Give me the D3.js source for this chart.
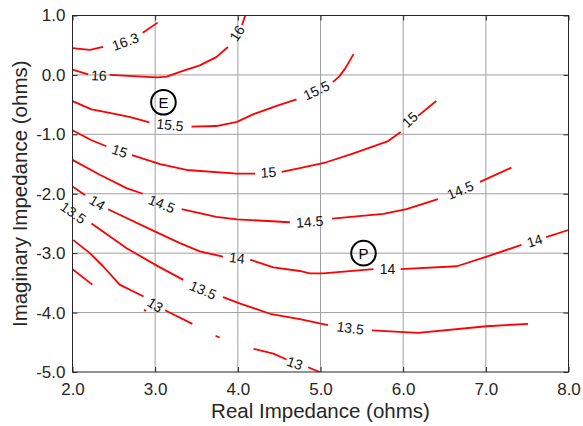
<!DOCTYPE html>
<html>
<head>
<meta charset="utf-8">
<script src="https://cdn.jsdelivr.net/npm/d3@7"></script>
<style>
  html, body { margin: 0; padding: 0; background: #fff; }
  svg { display: block; font-family: "Liberation Sans", Arial, sans-serif; }
</style>
</head>
<body>
<svg id="chart" width="583" height="426"></svg>
<script>
// ---------------- data ----------------
const xTicks = [2, 3, 4, 5, 6, 7, 8];
const xTickLabels = ["2.0", "3.0", "4.0", "5.0", "6.0", "7.0", "8.0"];
const yTicks = [1, 0, -1, -2, -3, -4, -5];
const yTickLabels = ["1.0", "0.0", "-1.0", "-2.0", "-3.0", "-4.0", "-5.0"];

const levelNames = ["16.3", "16", "15.5", "15", "14.5", "14", "13.5", "13"];

// contour pieces (real, imaginary) for each level
const line163 = [
  [[2.0, 0.45], [2.21, 0.42], [2.37, 0.47]],
  [[2.85, 0.71], [3.03, 0.88]]
];
const line160 = [
  [[2.0, 0.09], [2.19, 0.01]],
  [[2.45, 0.00], [3.02, -0.04], [3.14, -0.03], [3.30, 0.05], [3.54, 0.16], [3.74, 0.30], [3.88, 0.47]],
  [[4.05, 0.84], [4.09, 1.0]]
];
const line155 = [
  [[2.0, -0.44], [2.23, -0.58], [2.45, -0.64], [2.70, -0.71], [2.93, -0.80]],
  [[3.44, -0.87], [3.74, -0.86], [3.99, -0.79], [4.19, -0.66], [4.47, -0.52], [4.71, -0.41]],
  [[5.15, -0.12], [5.23, -0.02], [5.30, 0.11], [5.40, 0.35]]
];
const line150 = [
  [[2.0, -0.93], [2.23, -1.10], [2.41, -1.20]],
  [[2.72, -1.35], [3.06, -1.50], [3.38, -1.60], [3.99, -1.66], [4.21, -1.66]],
  [[4.53, -1.63], [4.75, -1.57], [5.07, -1.47], [5.40, -1.32], [5.81, -1.12], [5.97, -0.96]],
  [[6.18, -0.69], [6.40, -0.44]]
];
const line145 = [
  [[2.0, -1.43], [2.33, -1.68], [2.66, -1.91], [2.85, -2.00]],
  [[3.32, -2.26], [3.74, -2.39], [3.99, -2.43], [4.63, -2.48]],
  [[5.14, -2.42], [5.76, -2.34], [6.04, -2.26], [6.42, -2.09]],
  [[6.93, -1.80], [7.31, -1.56]]
];
const line140 = [
  [[2.0, -1.88], [2.15, -2.02]],
  [[2.43, -2.26], [3.02, -2.65], [3.30, -2.83], [3.54, -2.97], [3.82, -3.06]],
  [[4.15, -3.11], [4.43, -3.24], [4.75, -3.30], [4.87, -3.34], [5.03, -3.34], [5.64, -3.27]],
  [[5.97, -3.27], [6.65, -3.22], [7.01, -3.06], [7.43, -2.86]],
  [[7.73, -2.73], [8.0, -2.61]]
];
const line135 = [
  [[2.23, -2.50], [2.66, -2.92], [3.02, -3.21], [3.34, -3.45]],
  [[3.82, -3.74], [4.03, -3.85], [4.39, -4.02], [4.75, -4.11], [4.99, -4.18], [5.09, -4.21]],
  [[5.62, -4.30], [6.18, -4.34], [7.01, -4.23], [7.51, -4.19]]
];
const line130 = [
  [[2.01, -2.78], [2.21, -3.00], [2.37, -3.22], [2.57, -3.53], [2.86, -3.73]],
  [[3.12, -3.96], [3.45, -4.19]],
  [[3.73, -4.39], [3.78, -4.42]],
  [[4.19, -4.61], [4.43, -4.69], [4.59, -4.79]],
  [[4.85, -4.92], [4.99, -5.0]]
];
// unlabeled fragments
const lineFragments = [
  [[2.0, -3.27], [2.24, -3.53]],
  [[2.865, -3.955], [2.89, -3.97]]
];

// label anchors (real, imaginary) for each level
const labels163 = [[2.64, 0.56]];
const labels160 = [[2.32, -0.01], [3.99, 0.70]];
const labels155 = [[3.18, -0.84], [4.95, -0.26]];
const labels150 = [[2.57, -1.28], [4.37, -1.64], [6.08, -0.75]];
const labels145 = [[3.08, -2.17], [4.87, -2.47], [6.69, -1.94]];
const labels140 = [[2.30, -2.15], [3.99, -3.08], [5.81, -3.27], [7.59, -2.79]];
const labels135 = [[2.01, -2.32], [3.58, -3.62], [5.36, -4.26]];
const labels130 = [[3.0, -3.87], [4.69, -4.85]];

// operating points
const pointNames = ["E", "P"];
const pointReal = [3.10, 5.52];
const pointImag = [-0.46, -3.00];

// ---------------- chart ----------------
const W = 583, H = 426;
const margin = { left: 72.5, right: 14.5, top: 15.5, bottom: 54 };
const svg = d3.select("#chart");

const x = d3.scaleLinear().domain([2, 8]).range([margin.left, W - margin.right]);
const y = d3.scaleLinear().domain([-5, 1]).range([H - margin.bottom, margin.top]);

const axisColor = "#262626";

// clip
svg.append("clipPath").attr("id", "plotclip")
  .append("rect")
  .attr("x", x(2)).attr("y", y(1))
  .attr("width", x(8) - x(2)).attr("height", y(-5) - y(1));

// grid
const grid = svg.append("g");
grid.selectAll("line.gx").data(xTicks.slice(1, -1)).enter().append("line")
  .attr("x1", d => x(d)).attr("x2", d => x(d))
  .attr("y1", y(1)).attr("y2", y(-5))
  .attr("stroke", "#a0a0a0").attr("stroke-width", 1);
grid.selectAll("line.gy").data(yTicks.slice(1, -1)).enter().append("line")
  .attr("y1", d => y(d)).attr("y2", d => y(d))
  .attr("x1", x(2)).attr("x2", x(8))
  .attr("stroke", "#a0a0a0").attr("stroke-width", 1);

// contours
const contours = [
  { name: levelNames[0], pieces: line163, labels: labels163 },
  { name: levelNames[1], pieces: line160, labels: labels160 },
  { name: levelNames[2], pieces: line155, labels: labels155 },
  { name: levelNames[3], pieces: line150, labels: labels150 },
  { name: levelNames[4], pieces: line145, labels: labels145 },
  { name: levelNames[5], pieces: line140, labels: labels140 },
  { name: levelNames[6], pieces: line135, labels: labels135 },
  { name: levelNames[7], pieces: line130, labels: labels130 }
];

const lineGen = d3.line().x(d => x(d[0])).y(d => y(d[1]));
const cg = svg.append("g").attr("clip-path", "url(#plotclip)");

contours.forEach(c => {
  cg.selectAll(null).data(c.pieces).enter().append("path")
    .attr("d", lineGen)
    .attr("fill", "none")
    .attr("stroke", "#ff0000")
    .attr("stroke-width", 1.8)
    .attr("stroke-linejoin", "round");
});
cg.selectAll(null).data(lineFragments).enter().append("path")
  .attr("d", lineGen)
  .attr("fill", "none")
  .attr("stroke", "#ff0000")
  .attr("stroke-width", 1.8)
  .attr("stroke-linecap", "butt");

// contour labels, angle from neighbouring line ends
function labelAngle(c, lab) {
  const lx = x(lab[0]), ly = y(lab[1]);
  const dist = p => Math.hypot(x(p[0]) - lx, y(p[1]) - ly);
  let prev = null, pd = Infinity, next = null, nd = Infinity, nextPiece = null;
  c.pieces.forEach(pc => {
    const e = pc[pc.length - 1], s = pc[0];
    if (dist(e) < pd) { pd = dist(e); prev = e; }
    if (dist(s) < nd) { nd = dist(s); next = s; nextPiece = pc; }
  });
  let a, b;
  if (pd > 35) { a = nextPiece[0]; b = nextPiece[1]; }
  else { a = prev; b = next; }
  let ang = Math.atan2(y(b[1]) - y(a[1]), x(b[0]) - x(a[0])) * 180 / Math.PI;
  if (ang > 90) ang -= 180;
  if (ang < -90) ang += 180;
  return ang;
}

const lg = svg.append("g");
contours.forEach(c => {
  c.labels.forEach(lab => {
    const ang = labelAngle(c, lab);
    lg.append("text")
      .attr("transform", `translate(${x(lab[0])},${y(lab[1])}) rotate(${ang})`)
      .attr("text-anchor", "middle")
      .attr("dominant-baseline", "central")
      .attr("font-size", 14)
      .attr("fill", "#111")
      .text(c.name);
  });
});

// operating points
const pg = svg.append("g");
pointNames.forEach((n, i) => {
  pg.append("circle")
    .attr("cx", x(pointReal[i])).attr("cy", y(pointImag[i]))
    .attr("r", 12.3)
    .attr("fill", "none")
    .attr("stroke", "#000")
    .attr("stroke-width", 2);
  pg.append("text")
    .attr("x", x(pointReal[i])).attr("y", y(pointImag[i]))
    .attr("text-anchor", "middle")
    .attr("dominant-baseline", "central")
    .attr("font-size", 15)
    .attr("fill", "#000")
    .text(n);
});

// axes
const fmtX = d => xTickLabels[xTicks.indexOf(d)];
const fmtY = d => yTickLabels[yTicks.indexOf(d)];

function styleAxis(g) {
  g.select(".domain").remove();
  g.selectAll(".tick line").attr("stroke", axisColor);
  g.selectAll(".tick text").attr("fill", axisColor)
    .attr("font-size", 17)
    .attr("font-family", "'Liberation Sans', Arial, sans-serif");
}

svg.append("g")
  .attr("transform", `translate(0,${y(-5)})`)
  .call(d3.axisBottom(x).tickValues(xTicks).tickFormat(fmtX).tickSizeInner(-5).tickSizeOuter(0).tickPadding(11))
  .call(styleAxis);
svg.append("g")
  .attr("transform", `translate(0,${y(1)})`)
  .call(d3.axisTop(x).tickValues(xTicks).tickFormat("").tickSizeInner(-5).tickSizeOuter(0))
  .call(styleAxis);
svg.append("g")
  .attr("transform", `translate(${x(2)},0)`)
  .call(d3.axisLeft(y).tickValues(yTicks).tickFormat(fmtY).tickSizeInner(-5).tickSizeOuter(0).tickPadding(7))
  .call(styleAxis);
svg.append("g")
  .attr("transform", `translate(${x(8)},0)`)
  .call(d3.axisRight(y).tickValues(yTicks).tickFormat("").tickSizeInner(-5).tickSizeOuter(0))
  .call(styleAxis);

// box
svg.append("rect")
  .attr("x", x(2)).attr("y", y(1))
  .attr("width", x(8) - x(2)).attr("height", y(-5) - y(1))
  .attr("fill", "none").attr("stroke", axisColor).attr("stroke-width", 1);

// axis titles
svg.append("text")
  .attr("x", (x(2) + x(8)) / 2).attr("y", 418)
  .attr("text-anchor", "middle")
  .attr("font-size", 20.5)
  .attr("fill", axisColor)
  .text("Real Impedance (ohms)");
svg.append("text")
  .attr("transform", `translate(27,${(y(1) + y(-5)) / 2}) rotate(-90)`)
  .attr("text-anchor", "middle")
  .attr("font-size", 20.5)
  .attr("fill", axisColor)
  .text("Imaginary Impedance (ohms)");
</script>
</body>
</html>
